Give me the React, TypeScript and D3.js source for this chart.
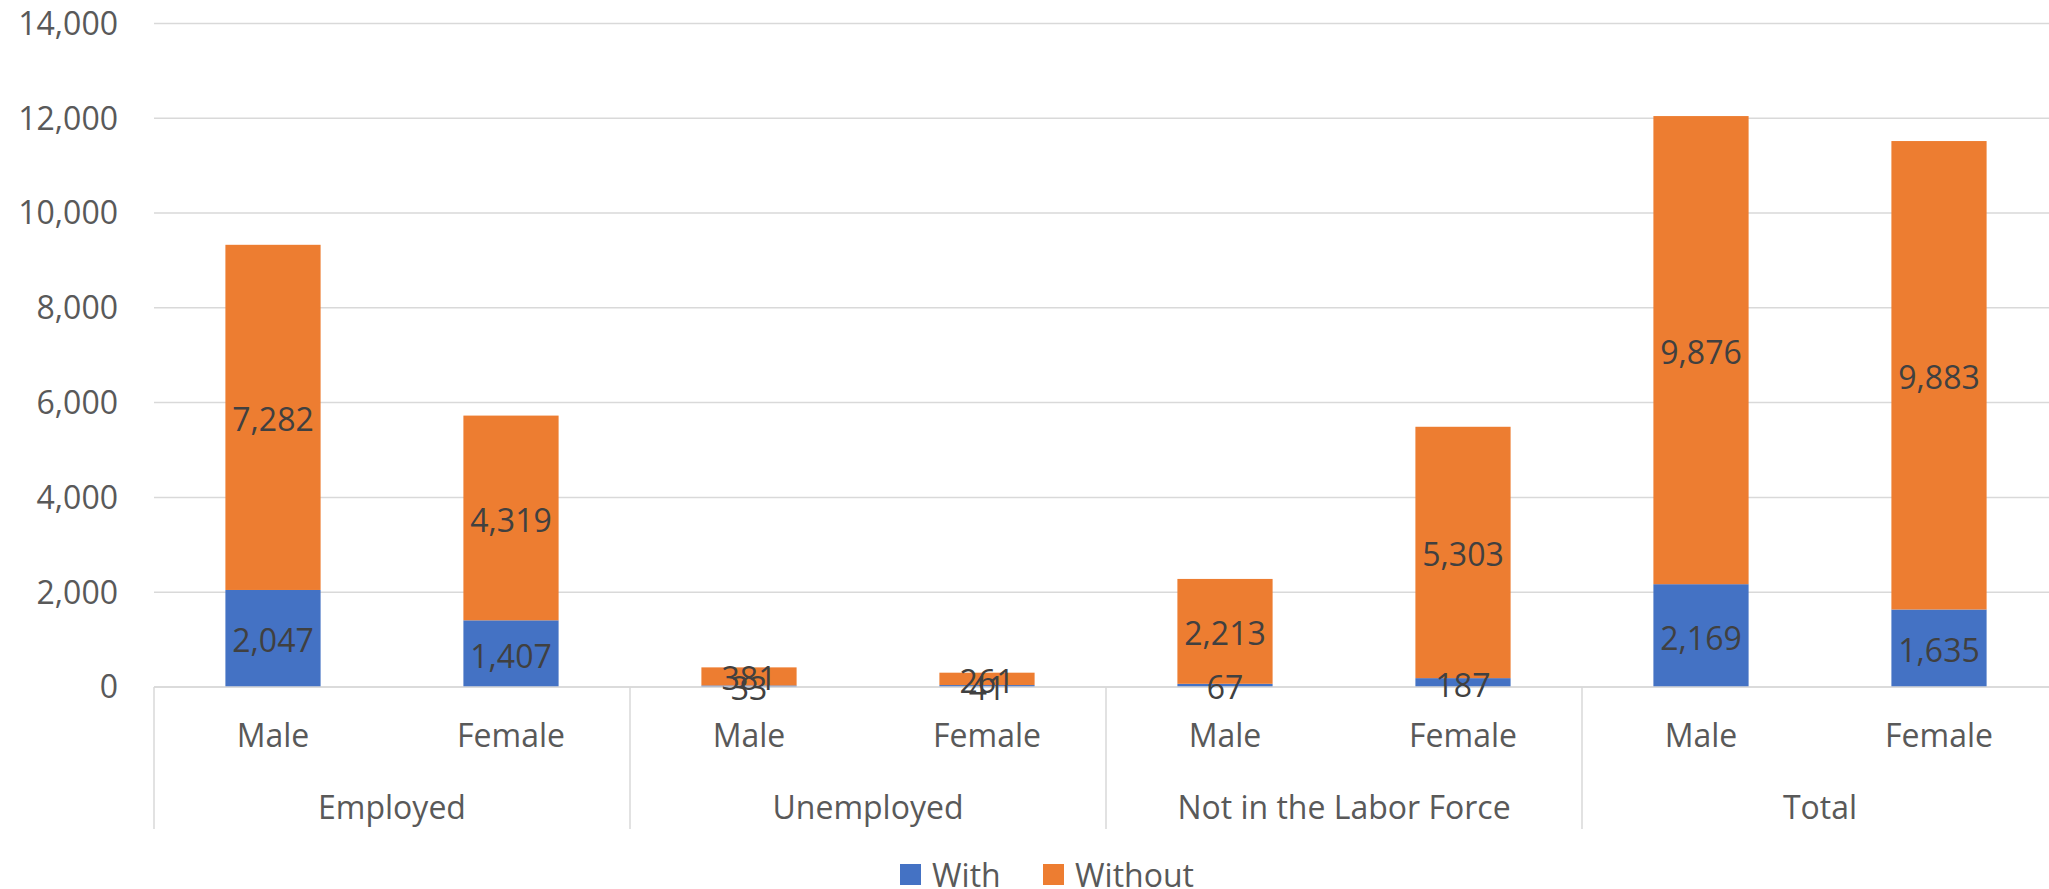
import React from "react";
import * as d3 from "d3";

const groups = ["Employed", "Unemployed", "Not in the Labor Force", "Total"];
const genders = ["Male", "Female"];
const withValues = [2047, 1407, 33, 41, 67, 187, 2169, 1635];
const withoutValues = [7282, 4319, 381, 261, 2213, 5303, 9876, 9883];
const yTicks = [0, 2000, 4000, 6000, 8000, 10000, 12000, 14000];
const seriesNames = ["With", "Without"];
const seriesColors = ["#4472C4", "#ED7D31"];

const W = 2049;
const H = 889;
const FONT = "'Open Sans', sans-serif";

export default function App() {
  const left = 154;
  const groupW = 476;
  const right = left + groupW * groups.length;
  const top = 23.4;
  const bottom = 687;

  const keys = groups.flatMap((g) => genders.map((s) => g + "|" + s));
  const x = d3.scaleBand<string>().domain(keys).range([left, right]).paddingInner(0.6).paddingOuter(0.3);
  const y = d3.scaleLinear().domain([0, 14000]).range([bottom, top]);
  const xg = d3.scaleBand<string>().domain(groups).range([left, right]);
  const fmt = d3.format(",");

  const rows = keys.map((k, i) => ({ key: k, gender: k.split("|")[1], vals: [withValues[i], withoutValues[i]] }));

  return (
    <svg width={W} height={H} style={{ position: "absolute", left: 0, top: 0, background: "#fff" }} fontFamily={FONT}>
      {/* gridlines */}
      {yTicks.map((t) => (
        <line key={"g" + t} x1={left} x2={W} y1={y(t)} y2={y(t)} stroke="#d9d9d9" strokeWidth={1.5} />
      ))}
      {/* y tick labels */}
      {yTicks.map((t) => (
        <text key={"t" + t} x={118} y={y(t) + 11.4} textAnchor="end" fontSize={32} fill="#595959">
          {fmt(t)}
        </text>
      ))}
      {/* bars */}
      {rows.map((r) => {
        let acc = 0;
        return r.vals.map((v, si) => {
          const y0 = acc;
          acc += v;
          return (
            <rect
              key={r.key + si}
              x={x(r.key)}
              width={x.bandwidth()}
              y={y(acc)}
              height={y(y0) - y(acc)}
              fill={seriesColors[si]}
            />
          );
        });
      })}
      {/* axis line */}
      <line x1={left} x2={W} y1={bottom} y2={bottom} stroke="#d9d9d9" strokeWidth={1.5} />
      {/* data labels */}
      {rows.map((r) => {
        let acc = 0;
        return r.vals.map((v, si) => {
          const y0 = acc;
          acc += v;
          const cy = (y(y0) + y(acc)) / 2;
          return (
            <text
              key={"l" + r.key + si}
              x={(x(r.key) as number) + x.bandwidth() / 2}
              y={cy + 14}
              textAnchor="middle"
              fontSize={32}
              fill="#404040"
            >
              {fmt(v)}
            </text>
          );
        });
      })}
      {/* category separators */}
      {groups.map((g) => (
        <line key={"s" + g} x1={xg(g)} x2={xg(g)} y1={bottom} y2={829} stroke="#d9d9d9" strokeWidth={1.5} />
      ))}
      <line x1={right} x2={right} y1={bottom} y2={829} stroke="#d9d9d9" strokeWidth={1.5} />
      {/* gender labels */}
      {rows.map((r) => (
        <text
          key={"c" + r.key}
          x={(x(r.key) as number) + x.bandwidth() / 2}
          y={746.5}
          textAnchor="middle"
          fontSize={32}
          fill="#595959"
        >
          {r.gender}
        </text>
      ))}
      {/* group labels */}
      {groups.map((g) => (
        <text key={"gl" + g} x={(xg(g) as number) + xg.bandwidth() / 2} y={818.5} textAnchor="middle" fontSize={32} fill="#595959">
          {g}
        </text>
      ))}
      {/* legend */}
      {seriesNames.map((n, i) => {
        const lx = i === 0 ? 900 : 1043;
        return (
          <g key={"lg" + n}>
            <rect x={lx} y={864} width={21} height={21} fill={seriesColors[i]} />
            <text x={lx + 32} y={886.5} fontSize={32} fill="#595959">
              {n}
            </text>
          </g>
        );
      })}
    </svg>
  );
}
